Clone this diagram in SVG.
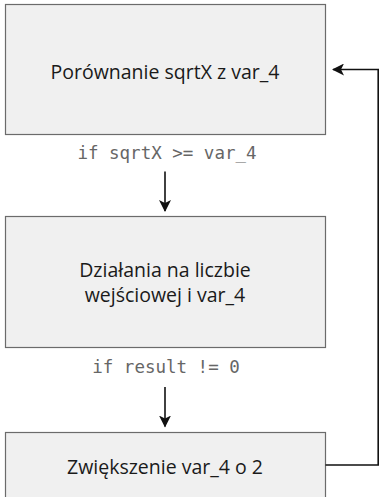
<svg xmlns="http://www.w3.org/2000/svg" width="379" height="497" viewBox="0 0 379 497">
  <defs>
    <style>
      .box { fill: #f0f0f0; stroke: #6b6b6b; stroke-width: 1.2; }
      .label { font-family: "Open Sans", "Noto Sans", sans-serif; font-size: 19.5px; fill: #1a1a1a; text-anchor: middle; }
      .code { font-family: "DejaVu Sans Mono", "Liberation Mono", monospace; font-size: 17.5px; fill: #666666; text-anchor: middle; }
      .conn { fill: none; stroke: #111111; stroke-width: 1.6; }
    </style>
    <marker id="arrow" viewBox="0 0 12 12" refX="11" refY="6" markerWidth="12" markerHeight="12" markerUnits="userSpaceOnUse" orient="auto">
      <path d="M0,0 L12,6 L0,12 L3,6 Z" fill="#111111"/>
    </marker>
  </defs>
  <rect width="379" height="497" fill="#ffffff"/>
  <g id="node1">
    <rect class="box" x="5.5" y="4.5" width="320" height="130"/>
    <text class="label" x="165" y="78.5">Porównanie sqrtX z var_4</text>
  </g>
  <g id="node2">
    <rect class="box" x="5.5" y="216.5" width="320" height="131"/>
    <text class="label" x="165" y="277">Działania na liczbie</text>
    <text class="label" x="165" y="302">wejściowej i var_4</text>
  </g>
  <g id="node3">
    <rect class="box" x="5.5" y="432.5" width="320" height="80"/>
    <text class="label" x="165" y="474">Zwiększenie var_4 o 2</text>
  </g>
  <g id="connectors">
    <path class="conn" d="M165,171.5 L165,211" marker-end="url(#arrow)"/>
    <text class="code" x="167" y="159">if sqrtX &gt;= var_4</text>
    <path class="conn" d="M165,387 L165,426.5" marker-end="url(#arrow)"/>
    <text class="code" x="166" y="373">if result != 0</text>
    <path class="conn" d="M325.5,465 L378.2,465 L378.2,69.5 L333,69.5" marker-end="url(#arrow)"/>
  </g>
</svg>
